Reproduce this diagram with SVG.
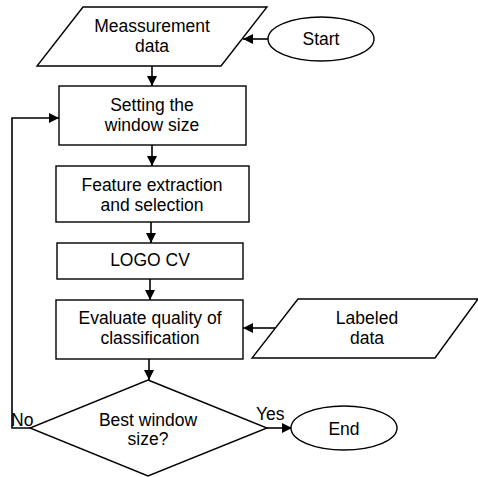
<svg xmlns="http://www.w3.org/2000/svg" width="478" height="477" viewBox="0 0 478 477">
<defs>
<style>
.s{fill:#fff;stroke:#000;stroke-width:1.4}
.t{font-family:"Liberation Sans",Arial,sans-serif;font-size:17.5px;fill:#000;text-anchor:middle}
.l{font-family:"Liberation Sans",Arial,sans-serif;font-size:17.5px;fill:#000}
.c{fill:none;stroke:#000;stroke-width:1.6}
</style>
<marker id="ah" viewBox="0 0 10 10" refX="10" refY="5" markerWidth="10" markerHeight="10" markerUnits="userSpaceOnUse" orient="auto">
<path d="M0,0 L10,5 L0,10 z" fill="#000"/>
</marker>
</defs>
<rect width="478" height="477" fill="#fff"/>
<g id="connectors">
<line class="c" x1="268" y1="39" x2="243" y2="39" marker-end="url(#ah)"/>
<line class="c" x1="152" y1="66" x2="152" y2="86" marker-end="url(#ah)"/>
<line class="c" x1="152" y1="145" x2="152" y2="166" marker-end="url(#ah)"/>
<line class="c" x1="151" y1="222" x2="151" y2="243" marker-end="url(#ah)"/>
<line class="c" x1="150" y1="279" x2="150" y2="300" marker-end="url(#ah)"/>
<line class="c" x1="275" y1="328" x2="243" y2="328" marker-end="url(#ah)"/>
<line class="c" x1="149" y1="359" x2="149" y2="380" marker-end="url(#ah)"/>
<line class="c" x1="267" y1="428" x2="292" y2="428" marker-end="url(#ah)"/>
<polyline class="c" points="30,428 12,428 12,118 59,118" marker-end="url(#ah)"/>
<text class="l" x="11" y="426">No</text>
<text class="l" x="256" y="420">Yes</text>
</g>
<g id="meas">
<polygon class="s" points="83,7 267,7 221,66 37,66"/>
<text class="t" x="152" y="32">Meassurement</text>
<text class="t" x="152" y="52">data</text>
</g>
<g id="start">
<ellipse class="s" cx="321" cy="39" rx="53" ry="22"/>
<text class="t" x="321" y="45">Start</text>
</g>
<g id="setting">
<rect class="s" x="59" y="86" width="187" height="59"/>
<text class="t" x="152" y="111">Setting the</text>
<text class="t" x="152" y="131">window size</text>
</g>
<g id="feature">
<rect class="s" x="56" y="166" width="193" height="56"/>
<text class="t" x="152" y="191">Feature extraction</text>
<text class="t" x="152" y="211">and selection</text>
</g>
<g id="logo">
<rect class="s" x="57" y="243" width="186" height="36"/>
<text class="t" x="150" y="266">LOGO CV</text>
</g>
<g id="evaluate">
<rect class="s" x="56" y="300" width="187" height="59"/>
<text class="t" x="150" y="324">Evaluate quality of</text>
<text class="t" x="150" y="344">classification</text>
</g>
<g id="labeled">
<polygon class="s" points="298,299 478,299 435,358 252,358"/>
<text class="t" x="367" y="324">Labeled</text>
<text class="t" x="367" y="344">data</text>
</g>
<g id="decision">
<polygon class="s" points="148,380 267,428 148,476 30,428"/>
<text class="t" x="148" y="426">Best window</text>
<text class="t" x="148" y="445">size?</text>
</g>
<g id="end">
<ellipse class="s" cx="344" cy="428" rx="53" ry="22"/>
<text class="t" x="344" y="435">End</text>
</g>
</svg>
